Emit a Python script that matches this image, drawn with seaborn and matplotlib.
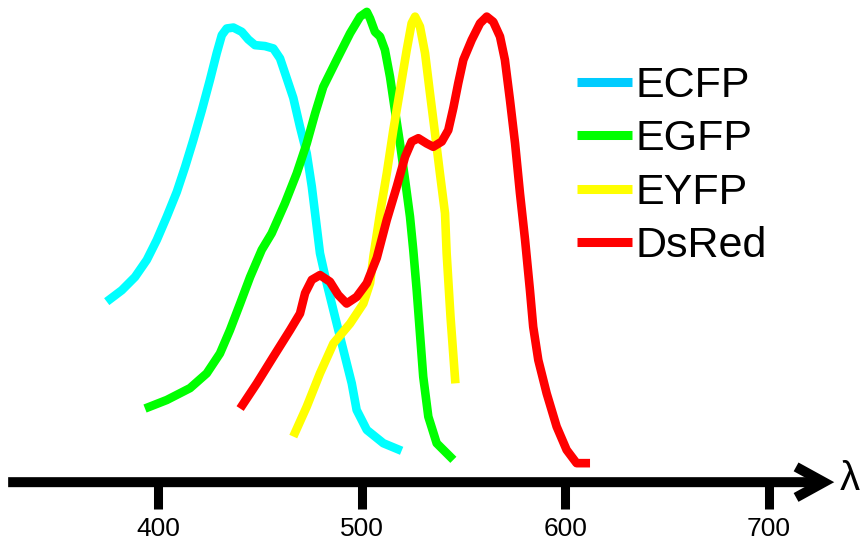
import numpy as np
import pandas as pd
import matplotlib
matplotlib.use("Agg")
import matplotlib.pyplot as plt
from matplotlib.lines import Line2D
import seaborn as sns

# ---- data (wavelength in nm, relative intensity) ----
series_names = ["ECFP", "EGFP", "EYFP", "DsRed"]

ecfp_nm = [374.8, 382.2, 388.7, 394.5, 399.4, 404.3, 409.2, 413.3, 417.3, 421.5, 425.5,
           428.8, 431.3, 433.7, 437.0, 441.1, 444.3, 447.6, 452.5, 456.6, 459.9, 463.2,
           466.4, 469.7, 473.0, 475.5, 477.1, 479.5, 482.8, 486.9, 491.0, 495.1, 497.5,
           502.5, 510.6, 519.6]
ecfp_int = [38.6, 41.0, 43.8, 47.4, 51.6, 56.5, 61.7, 67.0, 72.6, 78.9, 85.3,
            90.9, 94.7, 96.1, 96.3, 95.4, 93.8, 92.6, 92.4, 91.9, 89.8, 85.6,
            81.5, 75.4, 69.8, 62.8, 57.2, 48.8, 42.5, 35.4, 28.4, 21.4, 15.8,
            11.6, 8.8, 7.2]

egfp_nm = [393.6, 404.3, 415.7, 423.9, 430.4, 435.3, 440.3, 445.2, 450.9, 455.8, 462.3,
           468.1, 473.0, 477.1, 481.1, 487.7, 494.3, 499.2, 502.5, 504.1, 506.5, 509.0,
           511.4, 513.9, 516.3, 518.8, 521.3, 523.7, 525.3, 527.0, 528.6, 530.2, 532.7,
           536.8, 545.0]
egfp_int = [16.1, 17.9, 20.4, 23.5, 27.7, 32.6, 38.2, 43.8, 49.5, 53.0, 59.3,
            65.6, 71.9, 78.2, 83.8, 89.5, 95.1, 98.6, 99.6, 98.2, 95.4, 94.4,
            91.6, 85.9, 78.9, 71.9, 64.2, 56.5, 49.5, 41.0, 31.9, 22.8, 14.4,
            8.8, 5.3]

eyfp_nm = [466.4, 473.0, 479.5, 486.1, 494.3, 500.8, 504.1, 505.7, 509.0, 512.3, 515.5,
           518.8, 522.1, 524.5, 526.2, 528.6, 531.1, 533.5, 536.0, 538.4, 540.9, 541.7,
           543.6, 546.0]
eyfp_int = [10.2, 16.5, 23.5, 29.8, 34.0, 38.2, 42.5, 48.0, 57.2, 65.6, 74.7,
            83.1, 91.6, 97.2, 98.6, 96.5, 90.9, 82.5, 74.0, 65.6, 57.2, 48.8,
            35.4, 21.4]

dsred_nm = [440.3, 448.5, 456.6, 464.8, 469.7, 472.2, 475.5, 479.5, 484.4, 488.5, 492.6,
            497.5, 502.5, 507.4, 512.3, 517.2, 521.3, 524.5, 527.8, 531.9, 535.1, 539.3,
            542.5, 545.0, 547.4, 549.9, 554.0, 558.1, 561.4, 564.6, 567.9, 570.3, 572.8,
            575.3, 577.7, 580.2, 582.6, 584.2, 586.7, 590.8, 595.7, 600.6, 605.5, 612.1]
dsred_int = [16.1, 21.4, 27.0, 32.6, 36.1, 40.4, 43.2, 44.2, 42.8, 40.0, 38.2,
             39.6, 42.5, 47.8, 55.8, 62.8, 69.1, 72.3, 73.0, 71.9, 71.2, 72.3,
             74.7, 79.4, 84.6, 89.5, 93.7, 97.2, 98.6, 97.5, 94.4, 89.5, 81.0,
             71.9, 61.4, 51.6, 41.0, 33.3, 26.3, 19.3, 12.3, 7.4, 4.6, 4.6]

tick_values = [400, 500, 600, 700]
axis_symbol = "\u03bb"

line_colors = ["#00FFFF", "#00FF00", "#FFFF00", "#FF0000"]
legend_colors = ["#00CCFF", "#00FF00", "#FFFF00", "#FF0000"]

# ---- long-form table ----
frames = []
for name, xs, ys in zip(series_names,
                        [ecfp_nm, egfp_nm, eyfp_nm, dsred_nm],
                        [ecfp_int, egfp_int, eyfp_int, dsred_int]):
    frames.append(pd.DataFrame({"nm": xs, "intensity": ys, "protein": name}))
df = pd.concat(frames, ignore_index=True)

sns.set_style("white")
plt.rcParams["font.family"] = ["Liberation Sans", "DejaVu Sans"]
plt.rcParams["text.color"] = "black"
plt.rcParams["xtick.color"] = "black"
plt.rcParams["xtick.labelcolor"] = "black"

fig = plt.figure(figsize=(8.66, 5.52), dpi=100)
ax = fig.add_axes([0, 0, 1, 1])

sns.lineplot(data=df, x="nm", y="intensity", hue="protein", hue_order=series_names,
             palette=dict(zip(series_names, line_colors)), sort=False,
             estimator=None, linewidth=6.2, legend=False, ax=ax,
             solid_capstyle="butt", solid_joinstyle="round")

AXIS_Y = 0.6
ax.set_xlim(322.4, 747.6)
ax.set_ylim(-14.1, 102.1)

# axis with arrow
ax.annotate("", xy=(732.0, AXIS_Y), xytext=(326.4, AXIS_Y),
            arrowprops=dict(arrowstyle="->,head_length=1.0,head_width=0.55",
                            lw=7.2, color="black", mutation_scale=20,
                            shrinkA=0, shrinkB=0, capstyle="butt",
                            joinstyle="miter"),
            annotation_clip=False)
ax.text(739.5, AXIS_Y + 0.6, axis_symbol, fontsize=29, ha="center", va="center",
        color="black")

for s in ax.spines.values():
    s.set_visible(False)
ax.spines["bottom"].set_position(("data", AXIS_Y))
ax.set_xticks(tick_values)
ax.set_xticklabels([str(v) for v in tick_values], fontsize=19, color="black")
ax.set_yticks([])
ax.tick_params(axis="x", direction="out", length=19.4, width=6.5, color="black",
               pad=6.0, bottom=True)
ax.set_xlabel("")
ax.set_ylabel("")
ax.grid(False)

handles = [Line2D([0], [0], color=c, lw=6.5, solid_capstyle="butt") for c in legend_colors]
leg = ax.legend(handles, series_names, loc="upper left",
                bbox_to_anchor=(577 / 866, 1 - 66 / 552), bbox_transform=fig.transFigure,
                frameon=False, fontsize=31, handlelength=1.28, handletextpad=0.08,
                labelspacing=0.31, borderpad=0, borderaxespad=0, labelcolor="black")

fig.savefig("out.png", dpi=100, facecolor="white")
